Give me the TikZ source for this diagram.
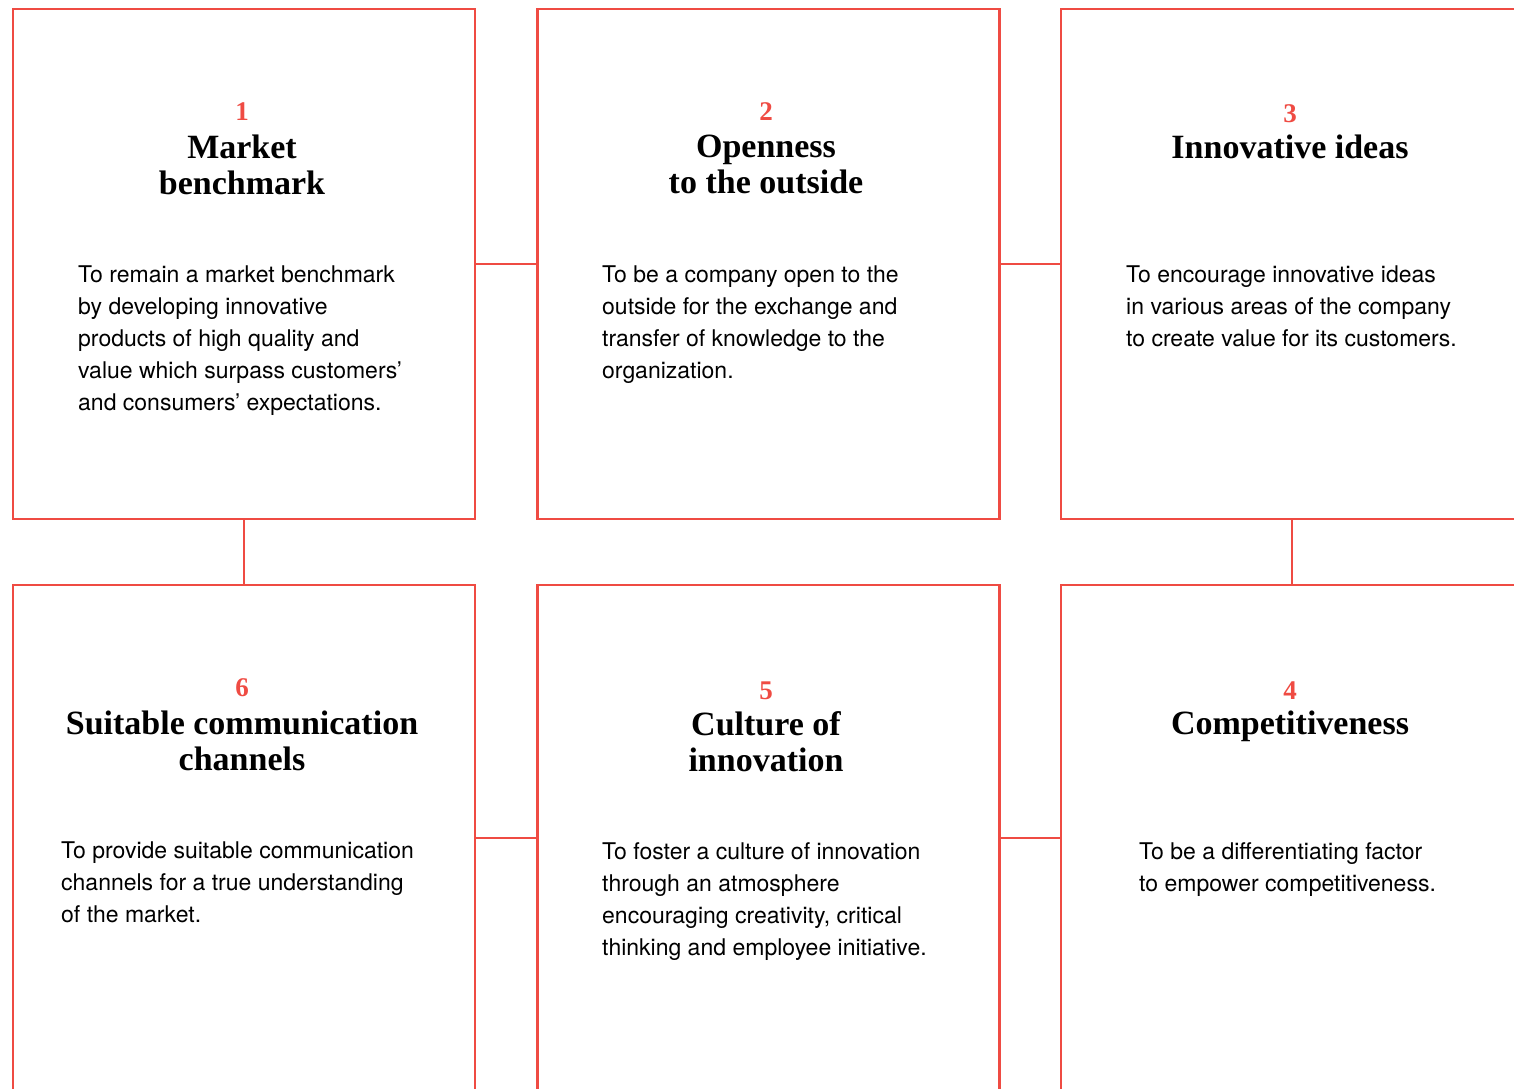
\documentclass[tikz,border=0pt]{standalone}
\usepackage{fontspec}
\setmainfont{TeX Gyre Heros}
\newfontfamily\headfont{Liberation Serif}
\usetikzlibrary{positioning}
\definecolor{brand}{HTML}{EF4B43}

\begin{document}
\begin{tikzpicture}[x=1pt,y=-1pt,
    card/.style={draw=brand,line width=2.8pt,minimum width=462pt,minimum height=510pt,inner sep=0pt,outer sep=0pt},
    link/.style={draw=brand,line width=2.8pt},
    num/.style={font=\headfont\bfseries\fontsize{27}{30}\selectfont,text=brand,inner sep=0pt},
    title/.style={font=\headfont\bfseries\fontsize{34}{36}\selectfont,align=center,anchor=north,inner sep=0pt},
    blurb/.style={font=\fontsize{23}{32}\selectfont,align=left,anchor=north west,inner sep=0pt}]
    \path[use as bounding box] (0,0) rectangle (1514,1088);
    \clip (0,0) rectangle (1514,1088);
    % six cards, top row 1-2-3, bottom row 6-5-4
    \foreach \i/\x/\y in {1/244/264,2/768.5/264,3/1292/264,6/244/840,5/768.5/840,4/1292/840} {
      \node[card] (b\i) at (\x,\y) {};
    }
    \draw[link] (b1.east) -- (b2.west);
    \draw[link] (b2.east) -- (b3.west);
    \draw[link] (b1.south) -- (b6.north);
    \draw[link] (b3.south) -- (b4.north);
    \draw[link] ([yshift=2pt]b6.east) -- ([yshift=2pt]b5.west);
    \draw[link] ([yshift=2pt]b5.east) -- ([yshift=2pt]b4.west);

    % headings
    \node[num] (n1) at (242,112) {1};
    \node[title] (t1) at (242,135) {Market\\benchmark};
    \node[num] (n2) at (766,112) {2};
    \node[title] (t2) at (766,135) {Openness\\to the outside};
    \node[num] (n3) at (1290,114) {3};
    \node[title] (t3) at (1290,135) {Innovative ideas};
    \node[num] (n6) at (242,688) {6};
    \node[title] (t6) at (242,711) {Suitable communication\\channels};
    \node[num] (n5) at (766,691) {5};
    \node[title] (t5) at (766,711) {Culture of\\innovation};
    \node[num] (n4) at (1290,691) {4};
    \node[title] (t4) at (1290,711) {Competitiveness};

    % descriptions
    \node[blurb] (d1) at (78,266) {To remain a market benchmark\\by developing innovative\\products of high quality and\\value which surpass customers’\\and consumers’ expectations.};
    \node[blurb] (d2) at (602,266) {To be a company open to the\\outside for the exchange and\\transfer of knowledge to the\\organization.};
    \node[blurb] (d3) at (1126,266) {To encourage innovative ideas\\in various areas of the company\\to create value for its customers.};
    \node[blurb] (d6) at (61,842) {To provide suitable communication\\channels for a true understanding\\of the market.};
    \node[blurb] (d5) at (602,842) {To foster a culture of innovation\\through an atmosphere\\encouraging creativity, critical\\thinking and employee initiative.};
    \node[blurb] (d4) at (1139,842) {To be a differentiating factor\\to empower competitiveness.};
  \end{tikzpicture}
\end{document}
